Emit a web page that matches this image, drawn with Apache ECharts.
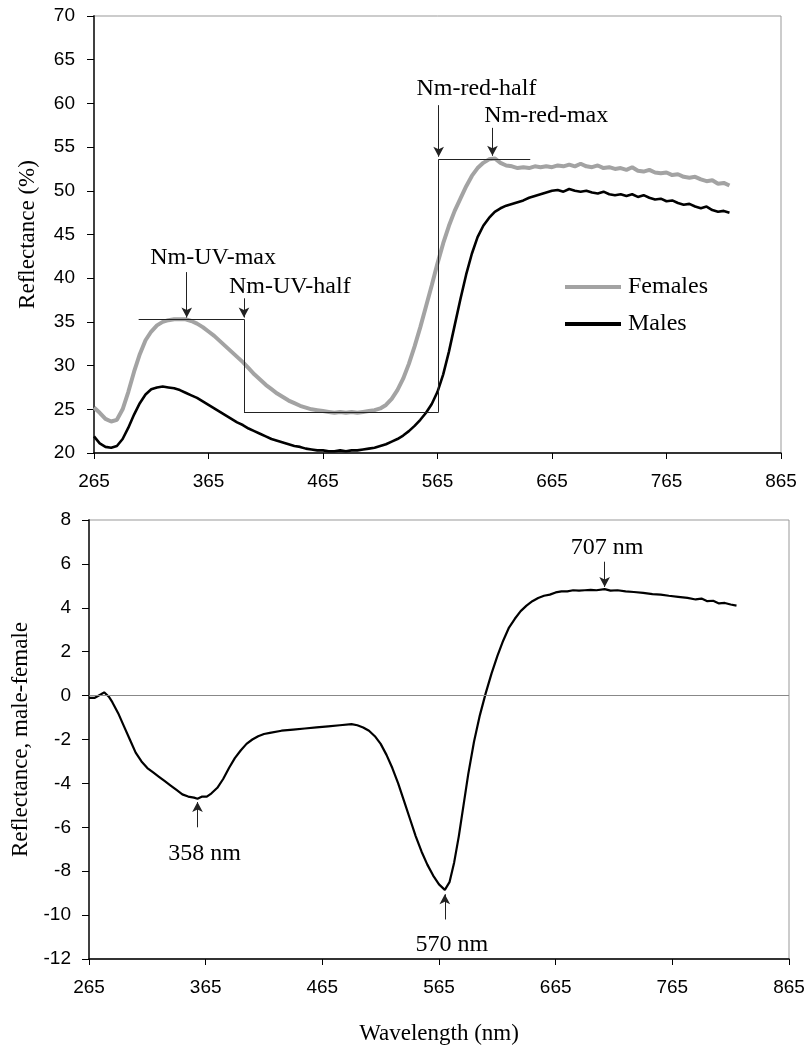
<!DOCTYPE html>
<html>
<head>
<meta charset="utf-8">
<script src="https://cdn.jsdelivr.net/npm/echarts@6/dist/echarts.min.js"></script>
<style>html,body{margin:0;padding:0;background:#fff;}#chart{width:808px;height:1046px;}</style>
</head>
<body>
<div id="chart"></div>
<script>
// ---- Data ----
const xTicks = [265, 365, 465, 565, 665, 765, 865];
const topNm = [265,270,275,280,285,290,295,300,305,310,315,320,325,330,335,340,345,350,355,360,365,370,375,380,385,390,395,400,405,410,415,420,425,430,435,440,445,450,455,460,465,470,475,480,485,490,495,500,505,510,515,520,525,530,535,540,545,550,555,560,565,570,575,580,585,590,595,600,605,610,615,620,625,630,635,640,645,650,655,660,665,670,675,680,685,690,695,700,705,710,715,720,725,730,735,740,745,750,755,760,765,770,775,780,785,790,795,800,805,810,815,820];
const females = [25.2,24.6,23.9,23.6,23.8,25.0,27.0,29.3,31.3,32.9,33.9,34.6,35.0,35.2,35.3,35.3,35.3,35.1,34.8,34.4,33.9,33.4,32.8,32.2,31.6,31.0,30.4,29.7,29.0,28.4,27.8,27.3,26.8,26.4,26.0,25.7,25.4,25.2,25.0,24.9,24.8,24.7,24.6,24.7,24.6,24.7,24.6,24.7,24.8,24.9,25.1,25.5,26.2,27.2,28.5,30.2,32.2,34.4,36.8,39.2,41.7,44.0,46.0,47.7,49.1,50.5,51.7,52.6,53.2,53.6,53.7,53.2,52.9,52.8,52.6,52.7,52.6,52.8,52.7,52.8,52.7,52.9,52.8,53.0,52.8,53.1,52.8,52.7,52.9,52.6,52.7,52.5,52.6,52.4,52.7,52.3,52.2,52.4,52.1,52.0,52.1,51.8,51.9,51.6,51.5,51.6,51.3,51.1,51.2,50.8,50.9,50.6];
const males = [21.9,21.1,20.7,20.6,20.8,21.6,22.9,24.4,25.7,26.7,27.3,27.5,27.6,27.5,27.4,27.2,26.9,26.6,26.3,25.9,25.5,25.1,24.7,24.3,23.9,23.5,23.2,22.8,22.5,22.2,21.9,21.6,21.4,21.2,21.0,20.8,20.7,20.5,20.4,20.3,20.3,20.2,20.2,20.3,20.2,20.3,20.3,20.4,20.5,20.6,20.8,21.0,21.3,21.6,22.0,22.5,23.1,23.8,24.6,25.6,27.0,29.0,31.6,34.6,37.6,40.4,42.8,44.7,46.0,46.9,47.6,48.0,48.3,48.5,48.7,48.9,49.2,49.4,49.6,49.8,50.0,50.1,49.9,50.2,50.0,49.9,50.0,49.8,49.7,49.9,49.6,49.5,49.6,49.4,49.6,49.3,49.5,49.2,49.0,49.1,48.8,48.9,48.6,48.4,48.5,48.2,48.0,48.2,47.8,47.6,47.7,47.5];
const diffNm = [265,270,275,278,282,285,290,295,300,305,310,315,320,325,330,335,340,345,350,355,358,362,366,370,375,380,385,390,395,400,405,410,415,420,430,440,450,460,470,480,490,495,500,505,510,515,520,525,530,535,540,545,550,555,560,565,570,574,578,582,586,590,595,600,605,610,615,620,625,630,635,640,645,650,655,660,665,670,675,680,685,690,695,700,707,712,718,725,732,740,748,755,762,770,778,785,790,795,800,805,810,815,820];
const diffVals = [-0.1,-0.1,0.05,0.15,-0.05,-0.3,-0.8,-1.4,-2.0,-2.6,-3.0,-3.3,-3.5,-3.7,-3.9,-4.1,-4.3,-4.5,-4.6,-4.65,-4.7,-4.6,-4.6,-4.45,-4.2,-3.8,-3.3,-2.85,-2.5,-2.2,-2.0,-1.85,-1.75,-1.7,-1.6,-1.55,-1.5,-1.45,-1.4,-1.35,-1.3,-1.35,-1.45,-1.6,-1.85,-2.2,-2.7,-3.3,-4.0,-4.8,-5.6,-6.4,-7.1,-7.7,-8.2,-8.6,-8.85,-8.5,-7.6,-6.4,-5.0,-3.6,-2.1,-0.9,0.1,1.0,1.8,2.5,3.1,3.5,3.85,4.1,4.3,4.45,4.55,4.6,4.7,4.75,4.75,4.8,4.78,4.8,4.82,4.8,4.85,4.78,4.8,4.75,4.72,4.68,4.62,4.6,4.55,4.5,4.45,4.38,4.42,4.3,4.32,4.2,4.22,4.15,4.1];

// annotation guide lines (top chart): [x1,y1,x2,y2]
const topGuides = [[304,35.3,396,35.3],[396,35.3,396,24.7],[396,24.7,566,24.7],[566,24.7,566,53.6],[566,53.6,646,53.6]];
// arrows: [x, yFrom, yTo]
const topArrows = [[346,40.7,35.5],[396,37.7,35.5],[566,59.8,53.9],[613,57.2,54.0]];
const topLabels = [[369,42.4,'Nm-UV-max'],[436,39.0,'Nm-UV-half'],[599,61.7,'Nm-red-half'],[660,58.6,'Nm-red-max']];
const botArrows = [[358,-6.0,-4.85],[570,-10.2,-9.05],[707,6.1,4.95]];
const botLabels = [[364,-7.2,'358 nm'],[576,-11.34,'570 nm'],[709,6.73,'707 nm']];

const zip = (xs, ys) => xs.map((x, i) => [x, ys[i]]);
const serif = 'Liberation Serif';
const sans = 'Liberation Sans';

function xAxisCfg(grid, withName) {
  const a = {
    type: 'value', gridIndex: grid, min: 265, max: 865, interval: 100,
    axisLine: {show: true, onZero: false, lineStyle: {color: '#000', width: 1.5}},
    axisTick: {show: true, inside: false, length: 6, lineStyle: {color: '#000', width: 1}},
    axisLabel: {fontFamily: sans, fontSize: 19, color: '#000', margin: 19},
    splitLine: {show: false}
  };
  if (withName) {
    a.name = 'Wavelength (nm)';
    a.nameLocation = 'middle';
    a.nameGap = 63;
    a.nameTextStyle = {fontFamily: serif, fontSize: 23, color: '#000'};
  }
  return a;
}
function yAxisCfg(grid, min, max, interval, name, gap, margin) {
  return {
    type: 'value', gridIndex: grid, min: min, max: max, interval: interval,
    name: name, nameLocation: 'middle', nameGap: gap,
    nameTextStyle: {fontFamily: serif, fontSize: 23, color: '#000'},
    axisLine: {show: true, onZero: false, lineStyle: {color: '#404040', width: 2}},
    axisTick: {show: true, inside: false, length: 7, lineStyle: {color: '#000', width: 1}},
    axisLabel: {fontFamily: sans, fontSize: 19, color: '#000', margin: margin},
    splitLine: {show: false}
  };
}

const guideLine = (g) => [{coord: [g[0], g[1]], symbol: 'none'}, {coord: [g[2], g[3]], symbol: 'none'}];
const arrowLine = (a) => [{coord: [a[0], a[1]], symbol: 'none'}, {coord: [a[0], a[2]], symbol: 'arrow', symbolSize: [8, 10]}];
const textPoint = (t) => ({coord: [t[0], t[1]], value: t[2]});

const option = {
  animation: false,
  backgroundColor: '#fff',
  grid: [
    {left: 94, top: 16, width: 687, height: 437, show: true, borderColor: '#999', borderWidth: 1},
    {left: 89, top: 520, width: 700, height: 442, show: true, borderColor: '#999', borderWidth: 1}
  ],
  xAxis: [xAxisCfg(0, false), xAxisCfg(1, true)],
  yAxis: [
    yAxisCfg(0, 20, 70, 5, 'Reflectance (%)', 55, 19),
    yAxisCfg(1, -12, 8, 2, 'Reflectance, male-female', 53, 18)
  ],
  legend: {
    orient: 'vertical', left: 560, top: 270, itemWidth: 56, itemHeight: 4, itemGap: 13,
    icon: 'rect',
    textStyle: {fontFamily: serif, fontSize: 24, color: '#000', lineHeight: 24, padding: [0, 0, 0, 2]},
    data: ['Females', 'Males']
  },
  series: [
    {
      name: 'Females', type: 'line', xAxisIndex: 0, yAxisIndex: 0, symbol: 'none',
      data: zip(topNm, females),
      lineStyle: {color: '#a3a3a3', width: 4}, itemStyle: {color: '#a3a3a3'},
      markLine: {
        silent: true, animation: false,
        label: {show: false},
        lineStyle: {color: '#222', width: 1, type: 'solid'},
        data: topGuides.map(guideLine).concat(topArrows.map(arrowLine))
      },
      markPoint: {
        silent: true, symbol: 'circle', symbolSize: 1, itemStyle: {color: 'rgba(0,0,0,0)'},
        label: {show: true, position: 'inside', fontFamily: serif, fontSize: 24, color: '#000', formatter: (p) => p.value},
        data: topLabels.map(textPoint)
      }
    },
    {
      name: 'Males', type: 'line', xAxisIndex: 0, yAxisIndex: 0, symbol: 'none',
      data: zip(topNm, males),
      lineStyle: {color: '#000', width: 2.6}, itemStyle: {color: '#000'}
    },
    {
      name: 'Difference', type: 'line', xAxisIndex: 1, yAxisIndex: 1, symbol: 'none',
      data: zip(diffNm, diffVals),
      lineStyle: {color: '#000', width: 2.2}, itemStyle: {color: '#000'},
      markLine: {
        silent: true, animation: false,
        label: {show: false},
        data: [
          [{coord: [265, 0], symbol: 'none', lineStyle: {color: '#888', width: 1, type: 'solid'}}, {coord: [865, 0], symbol: 'none'}]
        ].concat(botArrows.map(arrowLine).map(l => { l[0].lineStyle = {color: '#222', width: 1, type: 'solid'}; return l; }))
      },
      markPoint: {
        silent: true, symbol: 'circle', symbolSize: 1, itemStyle: {color: 'rgba(0,0,0,0)'},
        label: {show: true, position: 'inside', fontFamily: serif, fontSize: 24, color: '#000', formatter: (p) => p.value},
        data: botLabels.map(textPoint)
      }
    }
  ]
};

const chart = echarts.init(document.getElementById('chart'), null, {renderer: 'canvas'});
chart.setOption(option);
</script>
</body>
</html>
